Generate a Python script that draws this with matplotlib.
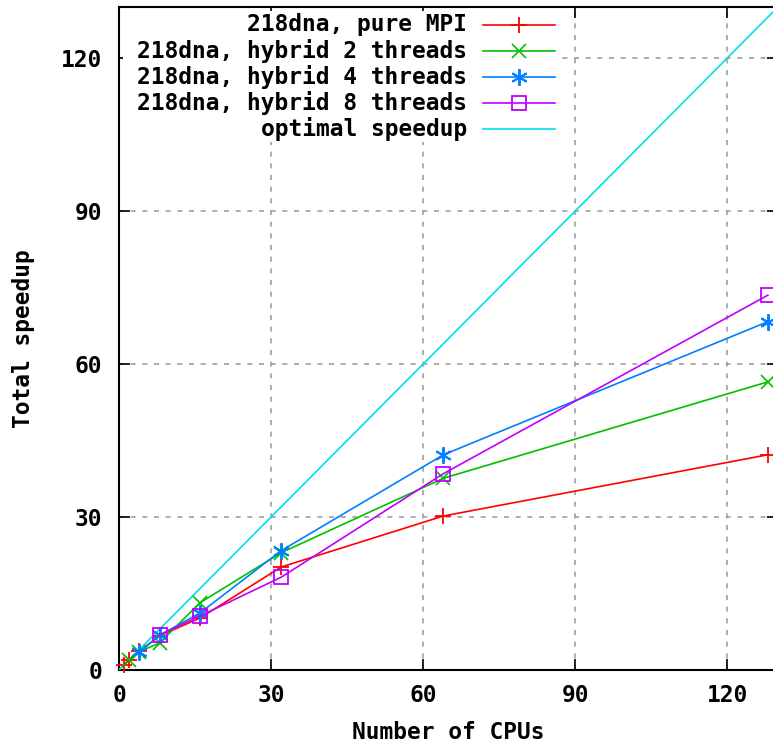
import matplotlib
matplotlib.use("Agg")
import matplotlib.pyplot as plt
from matplotlib.lines import Line2D
from matplotlib.patches import Rectangle
from matplotlib.font_manager import FontProperties

# ---- data ----
mpi_x = [1, 2, 4, 8, 16, 32, 64, 128]
mpi_y = [1.0, 2.0, 3.7, 6.7, 10.2, 20.2, 30.2, 42.2]

h2_x = [2, 4, 8, 16, 32, 64, 128]
h2_y = [2.0, 3.6, 5.3, 13.2, 23.0, 37.6, 56.5]

h4_x = [4, 8, 16, 32, 64, 128]
h4_y = [3.5, 6.8, 11.2, 23.4, 42.2, 68.3]

h8_x = [8, 16, 32, 64, 128]
h8_y = [6.9, 10.6, 18.2, 38.5, 73.5]

opt_x = [0, 130]
opt_y = [0, 130]

labels = ["218dna, pure MPI", "218dna, hybrid 2 threads", "218dna, hybrid 4 threads",
          "218dna, hybrid 8 threads", "optimal speedup"]
xticks = [0, 30, 60, 90, 120]
yticks = [0, 30, 60, 90, 120]

# ---- figure ----
W, H = 773, 746
fig = plt.figure(figsize=(W / 100, H / 100), dpi=100)
ax = fig.add_axes([119 / W, (H - 670) / H, 659 / W, 663 / H])

font = dict(family="DejaVu Sans Mono", weight="bold", size=16.5)
fp = FontProperties(**font)

ms = 10
lw = 1.2
styles = [
    dict(color="#ff0000", marker="+", ms=ms + 2, mew=1.3),
    dict(color="#00c000", marker="x", ms=ms, mew=1.2),
    dict(color="#0080ff", marker=(6, 2, 0), ms=ms + 2, mew=1.4),
    dict(color="#c000ff", marker="s", mfc="none", ms=ms, mew=1.3),
    dict(color="#00e0e8"),
]
series = [(mpi_x, mpi_y), (h2_x, h2_y), (h4_x, h4_y), (h8_x, h8_y), (opt_x, opt_y)]
for i, ((xs, ys), st) in enumerate(zip(series, styles)):
    ax.plot(xs, ys, lw=lw, clip_on=(i == 4), zorder=4 if i == 4 else 5, **st)

ax.set_xlim(0, 130)
ax.set_ylim(0, 130)
ax.set_xticks(xticks)
ax.set_yticks(yticks)
ax.tick_params(direction="in", length=8, width=1.2, top=True, right=True)
ax.tick_params(axis="x", pad=10)
ax.tick_params(axis="y", pad=12)
for lab in ax.get_xticklabels() + ax.get_yticklabels():
    lab.set_fontproperties(fp)
for s in ax.spines.values():
    s.set_linewidth(1.5)

ax.grid(True, color="#a0a0a0", linestyle=(0, (3, 4)), linewidth=1.2)
ax.set_axisbelow(True)

ax.set_xlabel("Number of CPUs", fontproperties=fp, labelpad=10)
ax.set_ylabel("Total speedup", fontproperties=fp, labelpad=19)

# ---- gnuplot-style key (opaque, text right-aligned, sample after text) ----
def fx(px):
    return px / W

def fy(py):
    return 1 - py / H

fig.add_artist(Rectangle((fx(123), fy(142)), fx(560) - fx(123), fy(11) - fy(142),
                         transform=fig.transFigure, facecolor="white",
                         edgecolor="none", zorder=6))
for i, (lab, st) in enumerate(zip(labels, styles)):
    yc = 25 + 26 * i
    fig.text(fx(467), fy(yc), lab, ha="right", va="center", fontproperties=fp, zorder=7)
    fig.add_artist(Line2D([fx(483), fx(555)], [fy(yc), fy(yc)], lw=lw,
                          color=st["color"], transform=fig.transFigure, zorder=7))
    if "marker" in st:
        mst = {k: v for k, v in st.items() if k != "color"}
        fig.add_artist(Line2D([fx(519)], [fy(yc)], lw=0, color=st["color"],
                              transform=fig.transFigure, zorder=7, **mst))

fig.savefig("out.png", dpi=100)
